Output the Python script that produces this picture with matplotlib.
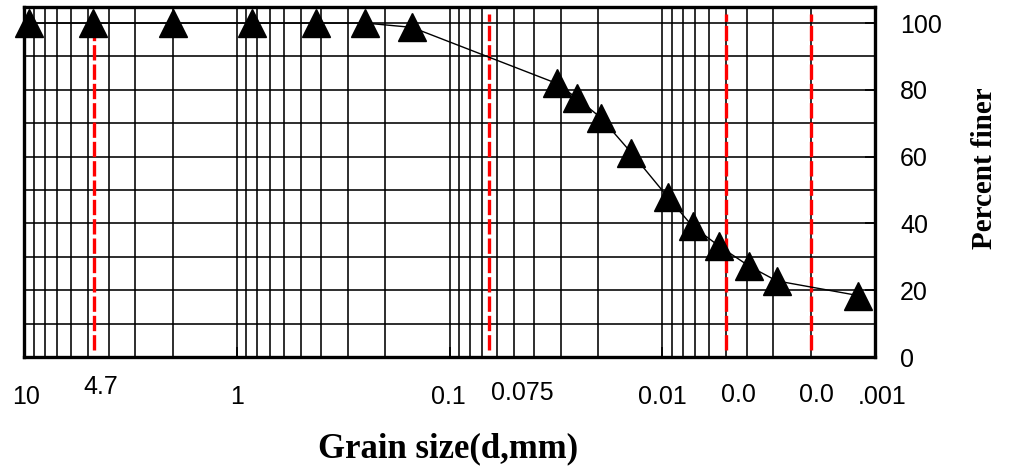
import matplotlib
matplotlib.use("Agg")
import matplotlib.pyplot as plt
import matplotlib.ticker as mticker
import numpy as np

# ---- data ----
grain_size = [9.5, 4.75, 2.0, 0.85, 0.425, 0.25, 0.15, 0.0313, 0.0252, 0.0194,
              0.014, 0.0094, 0.0072, 0.0054, 0.0039, 0.0029, 0.0012]
percent_finer = [100, 100, 100, 100, 100, 100, 98.7, 81.9, 77.5, 71.6,
                 61.2, 47.8, 39.1, 33.2, 27.2, 22.8, 18.4]
red_lines = [4.7, 0.065, 0.005, 0.002]
x_tick_labels = ["10", "4.7", "1", "0.1", "0.075", "0.01", "0.0", "0.0", ".001"]
x_tick_pos = [9.79, 4.35, 1.0, 0.1016, 0.0456, 0.01, 0.0044, 0.00189, 0.00093]
x_tick_yoff = [-0.114, -0.086, -0.114, -0.114, -0.104, -0.114, -0.108, -0.108, -0.114]
y_ticks = [0, 20, 40, 60, 80, 100]

fig = plt.figure(figsize=(10.09, 4.73), dpi=100)
ax = fig.add_axes([24 / 1009, 1 - 357 / 473, (875 - 24) / 1009, 350 / 473])

ax.set_xscale("log")
ax.set_xlim(10, 0.001)
ax.set_ylim(0, 104.8)

# grid
ax.xaxis.set_major_locator(mticker.LogLocator(base=10, numticks=10))
ax.xaxis.set_minor_locator(mticker.LogLocator(base=10, subs=np.arange(2, 10), numticks=20))
ax.xaxis.set_major_formatter(mticker.NullFormatter())
ax.xaxis.set_minor_formatter(mticker.NullFormatter())
ax.grid(True, which="both", axis="x", color="black", linewidth=1.15)
ax.yaxis.set_minor_locator(mticker.MultipleLocator(10))
ax.grid(True, which="both", axis="y", color="black", linewidth=1.15)
ax.set_axisbelow(True)

# ticks
ax.yaxis.tick_right()
ax.set_yticks(y_ticks)
ax.set_yticklabels([str(v) for v in y_ticks], fontsize=18, family="Liberation Sans")
ax.tick_params(axis="y", which="major", direction="in", length=7, width=1.2, pad=18)
ax.tick_params(axis="y", which="minor", length=0)
ax.tick_params(axis="x", which="major", direction="in", length=7, width=1.2)
ax.tick_params(axis="x", which="minor", length=0)

for s in ax.spines.values():
    s.set_linewidth(2.4)
    s.set_color("black")

# red dashed lines
for xv in red_lines:
    ax.axvline(xv, ymin=0.02, ymax=0.98, color="#ff0000", linewidth=2.4,
               dashes=(4.6, 1.2), zorder=3)

# data
ax.plot(grain_size, percent_finer, color="black", linewidth=1.0, zorder=4)
ax.plot(grain_size, percent_finer, linestyle="none", marker="^", markersize=20.5,
        color="black", zorder=5, clip_on=False)

# x labels
for lab, xv, yo in zip(x_tick_labels, x_tick_pos, x_tick_yoff):
    ax.text(xv, yo, lab, transform=ax.get_xaxis_transform(), ha="center", va="center",
            fontsize=18, family="Liberation Sans")

fig.text(448.5 / 1009, 1 - 449 / 473, "Grain size(d,mm)", ha="center", va="center",
         fontsize=25, fontweight="bold", family="Liberation Serif")
fig.text(985 / 1009, 1 - 168 / 473, "Percent finer", ha="center", va="center",
         rotation=90, fontsize=21, fontweight="bold", family="Liberation Serif")

fig.savefig("out.png", dpi=100)
